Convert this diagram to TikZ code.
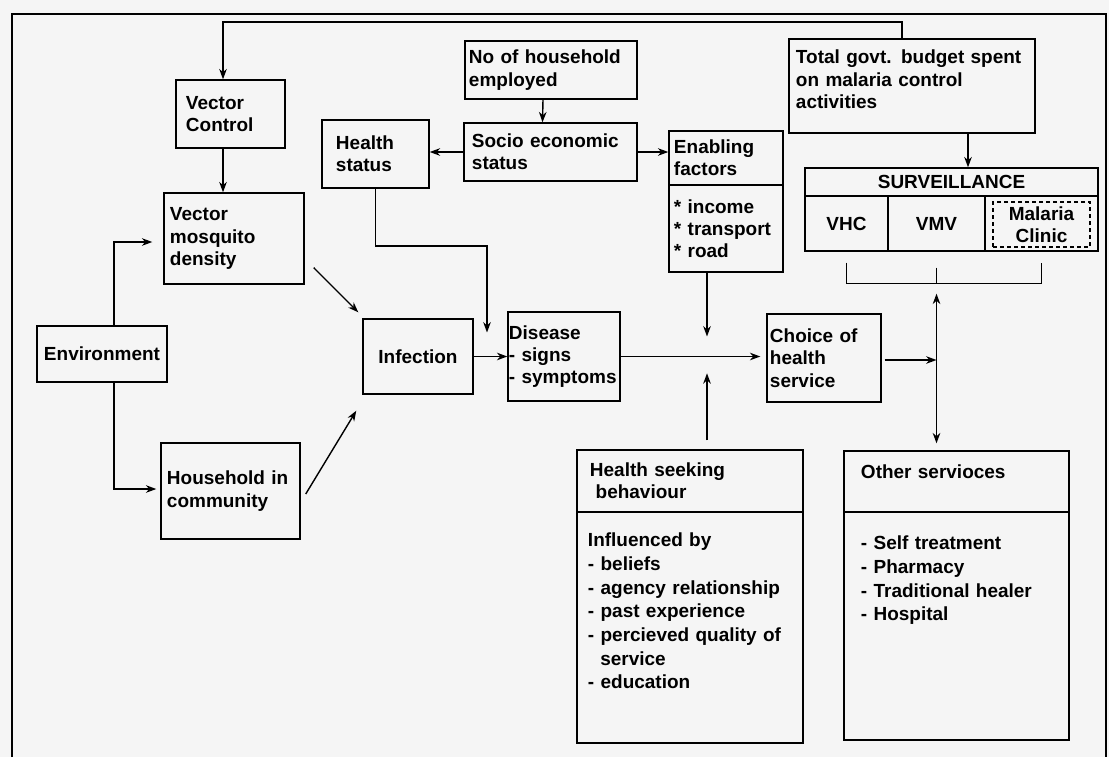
\documentclass[tikz,border=0pt]{standalone}
\usepackage{fontspec}
\setmainfont{Liberation Sans}
\usepackage{tikz}
\usetikzlibrary{arrows.meta,calc}
\pgfdeclarelayer{bglayer}
\pgfdeclarelayer{edgelayer}
\pgfdeclarelayer{nodelayer}
\pgfsetlayers{bglayer,edgelayer,nodelayer,main}
\tikzstyle{none}=[inner sep=0pt]
\tikzstyle{block}=[rectangle,draw=black,line width=1pt,inner sep=0pt,align=left,font=\bfseries\fontsize{13.5}{15.8}\selectfont]
\tikzstyle{cell}=[block,align=center]
\tikzstyle{listblock}=[block,font=\bfseries\fontsize{13.5}{16.8}\selectfont]
\tikzstyle{dashblock}=[cell,dash pattern=on 0.1cm off 0.075cm]
\tikzstyle{inarrow}=[->, >={Stealth[length=0.26cm,width=0.19cm]}, line width=1pt]
\tikzstyle{plain}=[-, line width=1pt]
\tikzstyle{frame}=[line width=1.5pt]

\begin{document}
\begin{tikzpicture}[x=0.025cm,y=-0.025cm]
	\useasboundingbox (0,0) rectangle (1109,757);
	\begin{pgfonlayer}{bglayer}
		\fill [black!4] (0,0) rectangle (1109,757);
	\end{pgfonlayer}
	\begin{pgfonlayer}{nodelayer}
		\node [style=block, minimum width=2.725cm, minimum height=1.7cm, text width=2.225cm] (vc) at (230.5,114) {Vector\\Control};
		\node [style=block, minimum width=3.5cm, minimum height=2.275cm, text width=3.2cm] (vmd) at (234,238.5) {Vector\\mosquito\\density};
		\node [style=block, minimum width=2.675cm, minimum height=1.7cm, text width=1.975cm] (hs) at (375.5,154) {Health\\status};
		\node [style=block, minimum width=4.3cm, minimum height=1.45cm, text width=4.1cm] (nhe) at (551,70) {No of household\\employed};
		\node [style=block, minimum width=4.325cm, minimum height=1.45cm, text width=3.925cm] (ses) at (550.5,152) {Socio economic\\status};
		\node [style=block, minimum width=2.85cm, minimum height=1.35cm, text width=2.6cm] (ef) at (726,158) {Enabling\\factors};
		\node [style=block, minimum width=2.85cm, minimum height=2.175cm, text width=2.6cm] (efl) at (726,228.5) {{*} income\\{*} transport\\{*} road};
		\node [style=block, minimum width=6.15cm, text height=0.625cm, text depth=1.725cm, text width=5.8cm] (tgb) at (912,86) {Total govt. budget spent\\on malaria control\\activities};
		\node [style=cell, minimum width=7.325cm, minimum height=0.7cm] (surv) at (951.5,182) {SURVEILLANCE};
		\node [style=cell, minimum width=2.075cm, minimum height=1.375cm] (vhc) at (846.5,223.5) {VHC};
		\node [style=cell, minimum width=2.425cm, minimum height=1.375cm] (vmv) at (936.5,223.5) {VMV};
		\node [style=cell, minimum width=2.825cm, minimum height=1.375cm] (mcell) at (1041.5,223.5) {};
		\node [style=dashblock, minimum width=2.425cm, minimum height=1.125cm] (mcl) at (1041.5,224.5) {Malaria\\Clinic};
		\node [style=block, minimum width=3.25cm, minimum height=1.4cm] (env) at (102,354) {Environment};
		\node [style=block, minimum width=3.475cm, minimum height=2.4cm, text width=3.175cm] (hic) at (230.5,491) {Household in\\community};
		\node [style=block, minimum width=2.75cm, minimum height=1.875cm] (inf) at (418,356.5) {Infection};
		\node [style=block, minimum width=2.8cm, minimum height=2.225cm, text width=2.75cm] (dis) at (564,356.5) {Disease\\- signs\\- symptoms};
		\node [style=block, minimum width=2.85cm, minimum height=2.2cm, text width=2.7cm] (cohs) at (824,358) {Choice of\\health\\service};
		\node [style=block, minimum width=5.65cm, minimum height=1.55cm, text width=5.0cm] (hsb) at (690,481) {Health seeking\\\hspace*{0.3em}behaviour};
		\node [style=listblock, minimum width=5.65cm, text height=0.875cm, text depth=4.9cm, text width=5.1cm] (hsl) at (690,627.5) {Influenced by\\- beliefs\\- agency relationship\\- past experience\\- percieved quality of\\\hspace*{0.65em}service\\- education};
		\node [style=block, minimum width=5.625cm, text height=0.675cm, text depth=0.85cm, text width=4.775cm] (os) at (956.5,481.5) {Other servioces};
		\node [style=listblock, minimum width=5.625cm, text height=0.95cm, text depth=4.75cm, text width=4.775cm] (osl) at (956.5,626) {- Self treatment\\- Pharmacy\\- Traditional healer\\- Hospital};
	\end{pgfonlayer}
	\begin{pgfonlayer}{edgelayer}
		\draw [style=frame] (12,757) -- (12,14) -- (1106,14) -- (1106,757);
		% budget back to vector control
		\coordinate (fbr) at (902,22);
		\coordinate (fbl) at (223,22);
		\draw [style=inarrow] (tgb.north -| fbr) -- (fbr) -- (fbl) -- (vc.north -| fbl);
		\draw [style=inarrow] (vc.south -| fbl) -- (vmd.north -| fbl);
		\draw [style=inarrow] ([xshift=-0.2cm]nhe.south) -- ([xshift=-0.2cm]ses.north);
		\draw [style=inarrow] (ses.west) -- (hs.east |- ses.west);
		\draw [style=inarrow] (ses.east) -- (ef.west |- ses.east);
		\coordinate (hsk) at (487,246);
		\draw [style=inarrow, shorten >=0.6cm] (hs.south) |- (hsk) -- (hsk |- inf.east);
		% environment
		\coordinate (eu) at (114,242);
		\coordinate (ed) at (114,489);
		\draw [style=inarrow, shorten >=0.275cm] (env.north -| eu) -- (eu) -- (vmd.west |- eu);
		\draw [style=inarrow, shorten >=0.1cm] (env.south -| ed) -- (ed) -- (hic.west |- ed);
		\draw [style=inarrow] ($(vmd.south east)+(9,-17)$) -- ($(inf.north west)+(-4,-6)$);
		\draw [style=inarrow] ($(hic.east)+(5,3)$) -- ($(inf.south west)+(-6,16)$);
		\draw [style=inarrow] (inf.east) -- (dis.west |- inf.east);
		\draw [style=inarrow, shorten >=0.15cm] (dis.east) -- (cohs.west |- dis.east);
		\coordinate (jn) at (707,356.5);
		\draw [style=inarrow, shorten >=0.5cm] (efl.south -| jn) -- (jn);
		\draw [style=inarrow, shorten <=0.225cm, shorten >=0.42cm] (hsb.north -| jn) -- (jn);
		% services
		\coordinate (sj) at (936.5,360);
		\draw [style=inarrow, shorten <=0.075cm] (cohs.east |- sj) -- (sj);
		\coordinate (tg) at ($(tgb.south)+(56,0)$);
		\draw [style=inarrow] (tg) -- (surv.north -| tg);
		\draw [style=plain] ($(vhc.south)+(0,11)$) -- ($(vhc.south)+(0,32)$) -| ($(mcell.south)+(0,11)$);
		\draw [style=plain] ($(vmv.south)+(0,16)$) -- ($(vmv.south)+(0,32)$) coordinate (bm);
		\draw [style=inarrow, <->, shorten <=0.25cm, shorten >=0.175cm] (bm) -- (os.north -| bm);
	\end{pgfonlayer}
\end{tikzpicture}
\end{document}
